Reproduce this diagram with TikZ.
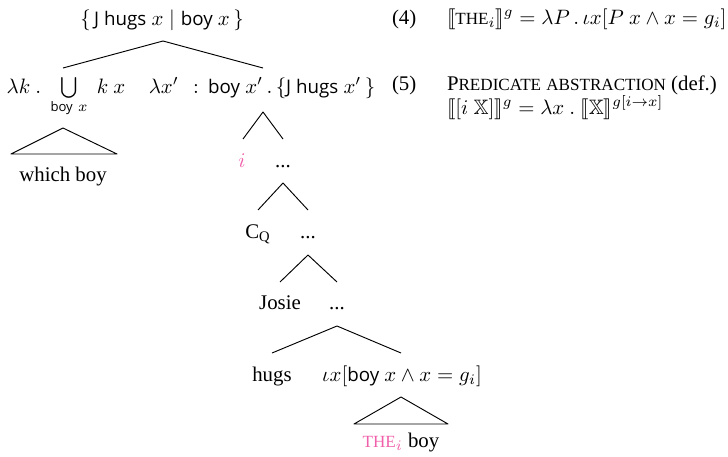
\documentclass[tikz,border=0pt]{standalone}
\usepackage{amsmath,amssymb,stmaryrd}
\usepackage{fontspec}
\setmainfont{Liberation Serif}
\setsansfont{Open Sans}[Scale=0.9]
\definecolor{idx}{RGB}{240,95,170}
% small capitals made from scaled capitals
\newcommand{\smcap}[1]{{\fontsize{8.2}{9}\selectfont\uppercase{#1}}}
\newcommand{\sem}[1]{\llbracket #1\rrbracket}
\begin{document}
\begin{tikzpicture}[x=0.48pt,y=-0.48pt,
  every node/.style={inner sep=0pt,outer sep=0pt},
  lbl/.style={anchor=base},
  lft/.style={anchor=base west},
  branch/.style={line width=0.45pt,line join=round}]
\useasboundingbox (0,0) rectangle (728,456);

% ---- labels of the tree ----
\node[lbl] (root) at (162,26) {$\{\,\textsf{J hugs}\ x \mid \textsf{boy}\ x\,\}$};
\node[lbl] (gq) at (66,93) {$\lambda k\ .\;\bigcup\limits_{\textsf{boy}\ x}\; k\ x$};
\node[lbl] (abs) at (262,93) {$\lambda x'\ \,:\,\textsf{boy}\ x'\,.\,\{\textsf{J hugs}\ x'\,\}$};
\node[lbl] (wb) at (63,181) {which boy};
\node[lbl,text=idx] (idxi) at (242,167) {$i$};
\node[lbl] (d1) at (283,167) {...};
\node[lbl] (cq) at (258,238) {C$_{\mathrm{Q}}$};
\node[lbl] (d2) at (308,238) {...};
\node[lbl] (josie) at (280,309) {Josie};
\node[lbl] (d3) at (337,309) {...};
\node[lbl] (hugs) at (272,381) {hugs};
\node[lbl] (iota) at (402,381) {$\iota x[\textsf{boy}\ x \wedge x = g_i]$};
\node[lbl] (theboy) at (401,447) {{\color{idx}\smcap{the}$_i$} boy};

% ---- branching points ----
\coordinate (r0) at (163,41);  \coordinate (r1) at (63,68);  \coordinate (r2) at (263,68);
\coordinate (a0) at (263,112); \coordinate (a1) at (243,139); \coordinate (a2) at (283,139);
\coordinate (b0) at (283,183); \coordinate (b1) at (258,210); \coordinate (b2) at (308,210);
\coordinate (c0) at (308,255); \coordinate (c1) at (280,282); \coordinate (c2) at (337,282);
\coordinate (e0) at (337,326); \coordinate (e1) at (272,353); \coordinate (e2) at (401,353);

\draw[branch] (r1) -- (r0) -- (r2);
\draw[branch] (a1) -- (a0) -- (a2);
\draw[branch] (b1) -- (b0) -- (b2);
\draw[branch] (c1) -- (c0) -- (c2);
\draw[branch] (e1) -- (e0) -- (e2);

% ---- roofs over unanalysed phrases ----
\coordinate (t0) at (63,128); \coordinate (t1) at (11,154); \coordinate (t2) at (117,154);
\draw[branch] (t0) -- (t1) -- (t2) -- cycle;
\coordinate (u0) at (401,397); \coordinate (u1) at (354,424); \coordinate (u2) at (448,424);
\draw[branch] (u0) -- (u1) -- (u2) -- cycle;

% ---- numbered definitions ----
\node[lft] (n4) at (392,24) {(4)};
\node[lft] (def4) at (447,24) {$\sem{\mbox{\smcap{the}}_i}^g = \lambda P\,.\,\iota x[P\ x \wedge x = g_i]$};
\node[lft] (n5) at (392,90) {(5)};
\node[lft] (pa) at (447,90) {P\smcap{redicate} \smcap{abstraction} (def.)};
\node[lft] (def5) at (447,114) {$\sem{[i\ \mathbb{X}]}^g = \lambda x\ .\ \sem{\mathbb{X}}^{g[i\to x]}$};
\end{tikzpicture}
\end{document}
